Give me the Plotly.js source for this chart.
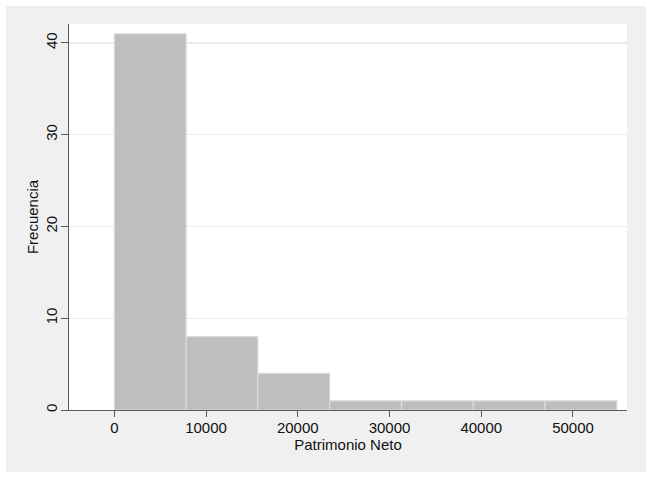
<!DOCTYPE html>
<html>
<head>
<meta charset="utf-8">
<script src="https://cdn.plot.ly/plotly-3.0.1.min.js"></script>
<style>
  html, body { margin: 0; padding: 0; background: #ffffff; }
  #chart { position: absolute; left: 6px; top: 6px; width: 640px; height: 466px; }
</style>
</head>
<body>
<div id="chart"></div>
<script>
// histogram bins
const binEdges = [0, 7826, 15652, 23478, 31304, 39130, 46956, 54782];
const frequencies = [41, 8, 4, 1, 1, 1, 1];
const xTicks = [0, 10000, 20000, 30000, 40000, 50000];
const yTicks = [0, 10, 20, 30, 40];

const mids = [];
const widths = [];
for (let i = 0; i < frequencies.length; i++) {
    mids.push((binEdges[i] + binEdges[i + 1]) / 2);
    widths.push(binEdges[i + 1] - binEdges[i]);
}

const font = { family: "Liberation Sans, Arial, sans-serif", size: 15, color: "#111111" };

const trace = {
    type: "bar",
    x: mids,
    y: frequencies,
    width: widths,
    marker: { color: "#bebebe", line: { color: "#dcdcdc", width: 1.2 } },
    hoverinfo: "y"
};

const layout = {
    width: 640,
    height: 466,
    margin: { l: 63, r: 19, t: 18, b: 62 },
    paper_bgcolor: "#f0f0f0",
    plot_bgcolor: "#ffffff",
    font: font,
    showlegend: false,
    bargap: 0,
    xaxis: {
        range: [-4938, 55887],
        tickmode: "array",
        tickvals: xTicks,
        ticktext: xTicks.map(String),
        showgrid: false,
        zeroline: false,
        showline: true,
        linecolor: "#5a5a5a",
        linewidth: 1,
        ticks: "outside",
        ticklen: 6,
        tickcolor: "#5a5a5a",
        tickfont: font,
        ticklabelstandoff: -2,
        title: { text: "Patrimonio Neto", font: font, standoff: 1 }
    },
    yaxis: {
        range: [0, 42.07],
        tickmode: "array",
        tickvals: yTicks,
        ticktext: yTicks.map(String),
        tickangle: -90,
        showgrid: true,
        gridcolor: "#ececec",
        gridwidth: 1.5,
        zeroline: false,
        showline: true,
        linecolor: "#5a5a5a",
        linewidth: 1,
        ticks: "outside",
        ticklen: 7,
        tickcolor: "#5a5a5a",
        tickfont: font,
        ticklabelstandoff: -2,
        title: { text: "Frecuencia", font: font, standoff: 0 }
    }
};

Plotly.newPlot("chart", [trace], layout, { displayModeBar: false, staticPlot: true });
</script>
</body>
</html>
